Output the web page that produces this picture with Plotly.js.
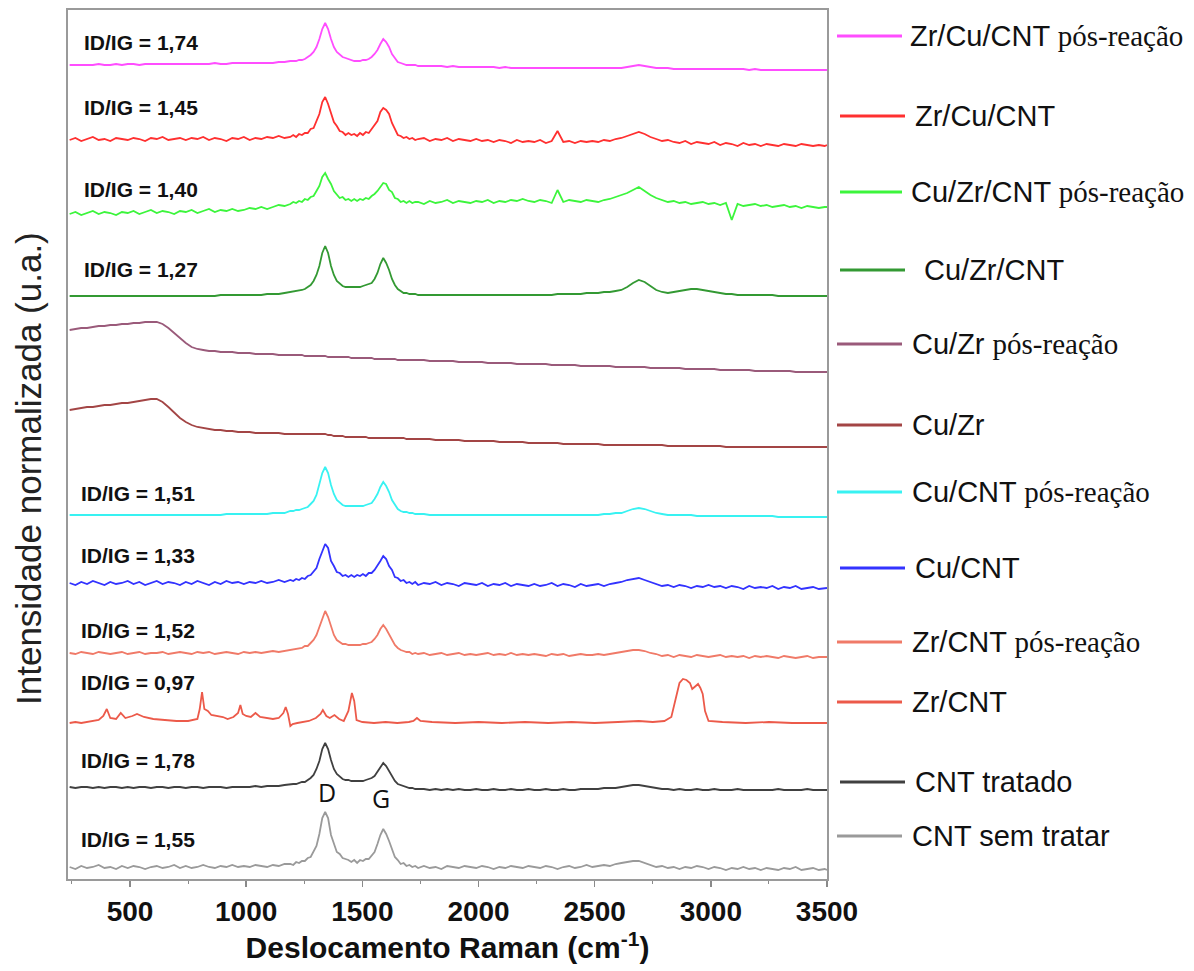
<!DOCTYPE html>
<html>
<head>
<meta charset="utf-8">
<script src="https://cdn.plot.ly/plotly-3.0.1.min.js"></script>
<style>
  html, body { margin: 0; padding: 0; background: #ffffff; }
  #chart { width: 1194px; height: 971px; }
</style>
</head>
<body>
<div id="chart"></div>
<script>
// ---------------- DATA ----------------
// Raman shift grid (cm-1) shared by most spectra (finer around the D and G bands)
const ramanShift = [
  240,265,290,315,340,365,390,415,440,465,
  490,515,540,565,590,615,640,665,690,715,
  740,765,790,815,840,865,890,915,940,965,
  990,1015,1040,1065,1090,1115,1140,1165,
  1190,1202.5,1215,1227.5,1240,1252.5,1265,1277.5,1290,1302.5,
  1315,1327.5,1340,1352.5,1365,1377.5,1390,1402.5,1415,1427.5,
  1440,1452.5,1465,1477.5,1490,1502.5,1515,1527.5,1540,1552.5,
  1565,1577.5,1590,1602.5,1615,1627.5,1640,1652.5,1665,1677.5,
  1690,1702.5,1715,1727.5,1740,
  1765,1790,1815,1840,1865,1890,1915,1940,1965,
  1990,2015,2040,2065,2090,2115,2140,2165,2190,2215,
  2240,2265,2290,2315,2340,2365,2390,2415,2440,2465,
  2490,2515,2540,2565,2590,2615,2640,2665,2690,2715,
  2740,2765,2790,2815,2840,2865,2890,2915,2940,2965,
  2990,3015,3040,3065,3090,3115,3140,3165,3190,3215,
  3240,3265,3290,3315,3340,3365,3390,3415,3440,3465,
  3490,3500
];

// Normalised intensities (a.u., stacked as in the figure)
const zrCuCntPos = [
  814,814,814,814,814,815,814,814,815,814,
  815,815,814,815,815,815,815,815,815,815,
  815,815,815,815,815,816,815,815,816,816,
  816,816,816,816,816,816,817,817,
  818,818,818,819,819,820,822,824,827,832,
  840,850,856,850,840,832,827,824,822,821,
  820,819,818,818,818,819,819,820,822,825,
  829,835,840,837,832,825,821,817,816,815,
  814,814,814,814,813,
  813,813,813,813,812,813,812,812,812,
  812,812,812,812,811,812,811,811,811,811,
  811,811,811,811,811,811,811,811,811,811,
  811,811,811,811,811,811,812,813,814,813,
  812,811,811,811,810,810,810,810,810,810,
  810,810,810,810,810,810,810,809,810,809,
  809,809,809,809,809,809,809,809,809,809,
  809,809
];
const zrCuCnt = [
  739,741,738,740,742,739,740,738,741,740,
  739,741,740,738,741,740,742,739,740,741,
  739,741,740,742,739,741,740,738,741,740,
  742,739,741,740,742,741,743,741,
  742,744,742,745,744,746,746,750,751,758,
  765,777,782,775,767,757,753,748,747,744,
  746,744,745,743,746,744,747,746,750,754,
  758,767,771,769,765,756,750,744,743,741,
  742,740,741,739,740,
  741,738,740,739,741,738,740,739,738,
  740,738,739,737,739,738,736,739,737,738,
  737,739,736,738,748,737,738,736,738,737,
  738,737,739,738,740,741,743,745,747,745,
  742,740,738,739,737,736,738,735,737,736,
  735,737,734,736,735,733,736,734,735,733,
  735,734,733,735,734,733,735,734,733,734,
  733,734
];
const cuZrCntPos = [
  665,667,664,666,668,665,667,666,664,667,
  666,668,665,667,669,666,668,667,665,668,
  667,669,666,668,670,667,669,668,670,668,
  669,671,670,672,670,672,674,673,
  675,677,676,678,677,680,679,682,683,688,
  693,702,706,700,695,688,685,681,682,679,
  680,678,680,678,680,679,681,680,683,685,
  688,692,696,695,689,687,681,680,677,678,
  676,678,676,677,677,
  675,678,676,677,679,676,678,677,676,
  678,677,679,676,678,677,679,678,680,678,
  677,679,678,676,689,677,679,678,677,679,
  678,677,679,680,682,684,686,689,692,688,
  684,681,679,677,678,676,677,675,676,677,
  675,676,674,676,659,675,673,674,675,673,
  674,672,673,674,672,673,671,673,672,671,
  672,672
];
const cuZrCnt = [
  583,583,583,583,583,583,583,583,583,583,
  583,583,583,583,583,583,583,583,583,583,
  583,583,583,583,583,583,584,584,584,584,
  584,584,584,584,585,585,585,586,
  587,587,588,588,589,590,592,594,598,604,
  613,626,633,626,613,604,598,595,593,592,
  592,592,592,592,592,593,594,595,596,600,
  606,615,621,616,609,600,594,590,588,586,
  586,585,585,585,584,
  584,584,584,584,584,584,584,584,584,
  584,584,584,584,584,584,584,584,584,584,
  584,584,584,584,585,585,585,585,585,586,
  586,586,587,587,588,589,592,596,599,597,
  593,589,587,586,587,588,589,590,590,589,
  588,587,586,585,585,584,584,584,584,584,
  584,584,583,583,583,583,583,583,583,583,
  583,583
];
const cuZrPos = [
  549,550,551,551,552,553,553,554,554,555,
  555,556,556,557,557,557,555,551,546,541,
  536,532,530,529,528,528,527,527,527,526,
  526,526,525,525,525,525,524,524,
  524,524,524,524,524,523,523,523,523,523,
  523,523,523,522,522,522,522,522,522,522,
  522,521,521,521,521,521,521,521,521,520,
  520,520,520,520,520,520,520,519,519,519,
  519,519,519,519,519,
  519,518,518,518,518,518,517,517,517,
  517,517,516,516,516,516,516,515,515,515,
  515,515,515,514,514,514,514,514,513,513,
  513,513,513,513,512,512,512,512,512,512,
  511,511,511,511,511,511,510,510,510,510,
  510,510,509,509,509,509,509,509,508,508,
  508,508,508,508,508,507,507,507,507,507,
  507,507
];
const cuZr = [
  469,470,471,472,472,473,474,474,475,476,
  476,477,478,479,480,480,477,472,466,461,
  457,454,452,451,450,449,449,448,448,447,
  447,447,446,446,446,446,446,445,
  445,445,445,445,445,445,445,445,445,445,
  445,445,445,444,444,443,443,443,443,442,
  442,442,442,442,442,442,442,441,441,441,
  441,441,441,441,441,441,441,441,441,441,
  440,440,440,440,440,
  440,440,439,439,439,439,439,438,438,
  438,438,438,438,437,437,437,437,437,436,
  436,436,436,436,436,435,435,435,435,435,
  435,435,434,434,434,434,434,434,434,434,
  434,434,434,433,433,433,433,433,433,433,
  433,433,433,432,432,432,432,432,432,432,
  432,432,432,432,432,432,432,432,432,432,
  432,432
];
const cuCntPos = [
  364,364,364,364,364,364,364,364,364,364,
  364,364,364,364,364,364,364,364,364,364,
  364,364,364,364,364,364,364,365,365,365,
  365,365,365,365,365,366,366,366,
  368,368,369,369,370,371,372,375,378,384,
  394,406,412,406,394,385,379,376,374,373,
  373,373,373,373,373,373,374,375,376,380,
  385,392,397,393,387,379,374,370,368,367,
  367,366,366,365,365,
  365,364,364,364,364,364,364,364,364,
  364,364,364,364,364,364,364,364,364,364,
  364,364,364,364,364,364,364,364,364,364,
  364,364,365,365,366,366,368,370,371,370,
  368,366,365,364,364,364,364,364,363,363,
  363,363,363,363,363,363,363,363,363,363,
  363,363,362,362,362,362,362,362,362,362,
  362,362
];
const cuCnt = [
  296,294,297,295,298,296,294,297,295,296,
  298,295,297,294,296,298,295,297,296,294,
  297,295,298,296,294,297,295,298,296,297,
  295,297,296,298,296,297,299,297,
  299,298,300,299,301,300,303,304,308,311,
  320,328,335,331,318,313,307,306,303,304,
  302,304,302,304,303,305,303,306,306,309,
  313,318,323,320,313,309,302,301,298,299,
  296,297,295,297,294,
  296,295,297,294,296,295,293,296,295,
  294,296,293,295,294,296,293,295,294,293,
  295,293,294,296,293,295,294,292,295,293,
  294,295,293,295,296,297,299,300,301,299,
  297,295,293,294,292,294,293,291,293,292,
  294,292,293,291,293,292,290,293,291,292,
  291,293,290,292,291,293,290,291,292,290,
  291,291
];
const zrCntPos = [
  226,225,227,226,225,227,226,225,226,227,
  225,226,227,225,226,226,227,225,226,227,
  226,225,227,226,227,225,226,227,226,225,
  227,226,227,226,227,228,227,228,
  229,230,230,231,231,233,233,236,239,244,
  252,262,268,262,252,244,239,237,235,235,
  234,234,234,234,234,235,235,236,237,240,
  244,250,254,250,245,239,234,231,229,228,
  227,227,225,226,225,
  226,224,225,226,224,225,226,224,225,
  224,225,226,224,225,224,226,224,225,224,
  225,224,223,225,224,225,223,224,225,224,
  224,225,224,225,226,227,228,229,229,228,
  226,225,223,224,222,224,223,222,224,223,
  222,223,224,222,223,222,223,221,223,222,
  223,222,221,223,222,221,222,223,221,222,
  222,222
];
// Zr/CNT has many narrow bands: own shift axis
const zrCntShift = [
  240,265,290,315,340,365,385,400,415,440,460,480,510,530,560,600,650,700,750,790,
  800,810,820,835,850,875,900,920,945,965,975,985,1000,1020,1040,1060,1090,1115,1140,1160,
  1170,1180,1190,1200,1220,1245,1270,1300,1320,1330,1345,1360,1380,1400,1420,1440,1455,1465,1475,1500,
  1550,1600,1650,1700,1720,1735,1750,1800,1900,2000,2100,2200,2300,2400,2500,2600,2690,2750,2800,2830,
  2850,2865,2880,2895,2910,2920,2930,2945,2955,2965,2975,2990,3050,3150,3250,3350,3450,3500
];
const zrCnt = [
  156,157,156,157,158,159,163,170,161,160,166,161,163,165,162,160,159,158,158,160,
  170,187,170,168,164,163,162,160,162,166,174,165,163,162,166,162,161,160,161,166,
  172,165,153,155,156,157,158,161,165,169,163,161,164,160,158,168,186,178,159,157,
  156,157,156,157,158,161,158,157,156,157,156,157,156,157,156,157,158,157,158,162,
  180,196,200,199,196,190,192,195,191,185,168,158,157,156,157,156,156,156
];
const cntTratado = [
  92,91,92,92,91,92,91,92,92,91,
  92,91,92,92,91,92,92,91,92,92,
  91,92,92,91,92,92,92,91,92,92,
  92,92,93,92,93,93,93,94,
  95,95,95,96,97,97,99,101,104,110,
  118,130,136,130,119,110,105,102,100,99,
  99,98,98,98,98,98,99,100,101,103,
  107,112,116,113,108,102,98,95,94,93,
  92,91,91,90,90,
  90,89,90,89,90,89,90,89,89,
  90,89,89,90,89,89,90,89,89,90,
  89,89,90,89,89,90,89,89,90,90,
  90,90,91,91,91,92,93,94,94,93,
  92,91,90,90,89,90,89,89,90,89,
  89,90,89,89,89,90,89,89,89,89,
  89,89,90,89,89,89,89,90,89,89,
  89,89
];
const cntSemTratar = [
  12,10,13,11,12,14,11,12,10,13,
  11,13,12,10,12,13,11,12,14,11,
  13,11,12,14,12,11,13,12,14,12,
  13,12,14,13,12,14,13,15,
  15,14,17,16,18,18,21,22,28,33,
  45,61,67,61,44,35,27,25,21,20,
  19,17,19,16,19,18,20,20,23,27,
  35,44,50,45,38,29,22,19,15,16,
  13,14,12,13,11,
  13,11,12,10,13,12,11,13,12,
  11,13,12,10,12,11,13,12,11,13,
  12,11,13,12,10,12,13,11,12,14,
  12,13,14,13,15,16,17,18,18,16,
  14,12,13,11,12,10,12,11,13,12,
  10,12,11,9,11,10,12,10,11,9,
  11,10,9,11,10,12,9,10,11,9,
  10,9
];

// sample names (legend), top to bottom
const sampleNames = [
  'Zr/Cu/CNT pós-reação', 'Zr/Cu/CNT', 'Cu/Zr/CNT pós-reação', 'Cu/Zr/CNT',
  'Cu/Zr pós-reação', 'Cu/Zr', 'Cu/CNT pós-reação', 'Cu/CNT',
  'Zr/CNT pós-reação', 'Zr/CNT', 'CNT tratado', 'CNT sem tratar'
];
// ID/IG ratios (null = not given)
const idIgRatios = ['1,74', '1,45', '1,40', '1,27', null, null, '1,51', '1,33', '1,52', '0,97', '1,78', '1,55'];
const xTickVals = [500, 1000, 1500, 2000, 2500, 3000, 3500];

// ---------------- STYLE / LAYOUT ----------------
const seriesX = [ramanShift, ramanShift, ramanShift, ramanShift, ramanShift, ramanShift,
                 ramanShift, ramanShift, ramanShift, zrCntShift, ramanShift, ramanShift];
const seriesY = [zrCuCntPos, zrCuCnt, cuZrCntPos, cuZrCnt, cuZrPos, cuZr,
                 cuCntPos, cuCnt, zrCntPos, zrCnt, cntTratado, cntSemTratar];
const lineColors = ['#ff4dff', '#ff3030', '#3cf53c', '#339933', '#9a5a7a', '#a34545',
                    '#38f2f2', '#3333ff', '#f07a68', '#ec5a4a', '#404040', '#9a9a9a'];

// pixel geometry of the plot area
const W = 1194, H = 971, L = 68, R = 827, T = 10, B = 879;
const px2x = p => (p - L) / (R - L);
const py2y = p => (B - p) / (B - T);

// legend rows (pixel centre y, line start/end x, text start x)
const legendRowY = [36, 116, 192, 270, 344, 425, 492, 568, 642, 702, 782, 836];
const legendLineX0 = [837, 840, 840, 840, 837, 837, 837, 840, 837, 837, 840, 837];
const legendLineX1 = [902, 905, 902, 905, 902, 902, 902, 905, 902, 902, 905, 902];
const legendTextX  = [908, 913, 909, 922, 910, 910, 910, 913, 910, 910, 913, 910];
// ID/IG label pixel positions
const ratioLabelY = [43, 107, 190, 270, null, null, 493, 555, 630, 682, 760, 839];
const ratioLabelX = [82, 82, 82, 82, null, null, 79, 79, 79, 79, 79, 79];

const traces = seriesY.map((ys, i) => ({
  x: seriesX[i], y: ys, type: 'scatter', mode: 'lines',
  name: sampleNames[i], showlegend: false, hoverinfo: 'skip',
  line: { color: lineColors[i], width: 1.8 }
}));

function richName(n) {
  const k = n.indexOf(' pós-reação');
  if (k < 0) return n;
  return n.slice(0, k) + ' <span style="font-family:\'Liberation Serif\',\'Times New Roman\',serif">pós-reação</span>';
}

const annotations = [];
const shapes = [];
sampleNames.forEach((n, i) => {
  const yy = py2y(legendRowY[i]);
  shapes.push({ type: 'line', xref: 'paper', yref: 'paper',
    x0: px2x(legendLineX0[i]), x1: px2x(legendLineX1[i]), y0: yy, y1: yy,
    line: { color: lineColors[i], width: 3 } });
  annotations.push({ xref: 'paper', yref: 'paper', x: px2x(legendTextX[i]), y: yy,
    xanchor: 'left', yanchor: 'middle', showarrow: false, text: richName(n),
    font: { family: 'Liberation Sans, Arial, sans-serif', size: 29, color: '#111111' } });
  if (idIgRatios[i]) {
    annotations.push({ xref: 'paper', yref: 'paper', x: px2x(ratioLabelX[i]), y: py2y(ratioLabelY[i]),
      xanchor: 'left', yanchor: 'middle', showarrow: false, text: 'ID/IG = ' + idIgRatios[i],
      font: { family: 'Liberation Sans, Arial, sans-serif', size: 21, color: '#111111', weight: 'bold' } });
  }
});
// D and G band labels
annotations.push({ xref: 'paper', yref: 'paper', x: px2x(327), y: py2y(792), showarrow: false,
  text: 'D', xanchor: 'center', yanchor: 'middle',
  font: { family: 'Open Sans, sans-serif', size: 25, color: '#111111' } });
annotations.push({ xref: 'paper', yref: 'paper', x: px2x(381), y: py2y(798), showarrow: false,
  text: 'G', xanchor: 'center', yanchor: 'middle',
  font: { family: 'Open Sans, sans-serif', size: 25, color: '#111111' } });
// y axis title
annotations.push({ xref: 'paper', yref: 'paper', x: px2x(28), y: py2y(469), showarrow: false,
  text: 'Intensidade normalizada (u.a.)', textangle: -90, xanchor: 'center', yanchor: 'middle',
  font: { family: 'Liberation Sans, Arial, sans-serif', size: 35, color: '#222222' } });

const boldFamily = "'Liberation Sans', Arial, sans-serif";

const layout = {
  width: W, height: H,
  margin: { l: L, r: W - R, t: T, b: H - B, pad: 0 },
  paper_bgcolor: '#ffffff', plot_bgcolor: '#ffffff',
  showlegend: false,
  xaxis: {
    range: [233, 3500], tickvals: xTickVals, ticktext: xTickVals.map(String),
    ticks: 'outside', ticklen: 6, tickwidth: 1.5, tickcolor: '#8a8a8a',
    minor: { dtick: 250, tick0: 250, ticks: 'outside', ticklen: 3, tickcolor: '#8a8a8a', tickwidth: 1 },
    showline: true, mirror: true, linecolor: '#9a9a9a', linewidth: 2,
    showgrid: false, zeroline: false,
    tickfont: { family: boldFamily, size: 28, color: '#111111', weight: 'bold' },
    title: { text: 'Deslocamento Raman (cm<sup>-1</sup>)', standoff: 10,
             font: { family: boldFamily, size: 30, color: '#111111', weight: 'bold' } }
  },
  yaxis: {
    range: [0, 869], showticklabels: false, ticks: '',
    showline: true, mirror: true, linecolor: '#9a9a9a', linewidth: 2,
    showgrid: false, zeroline: false
  },
  annotations: annotations,
  shapes: shapes
};

Plotly.newPlot('chart', traces, layout, { staticPlot: true, displayModeBar: false });
</script>
</body>
</html>
